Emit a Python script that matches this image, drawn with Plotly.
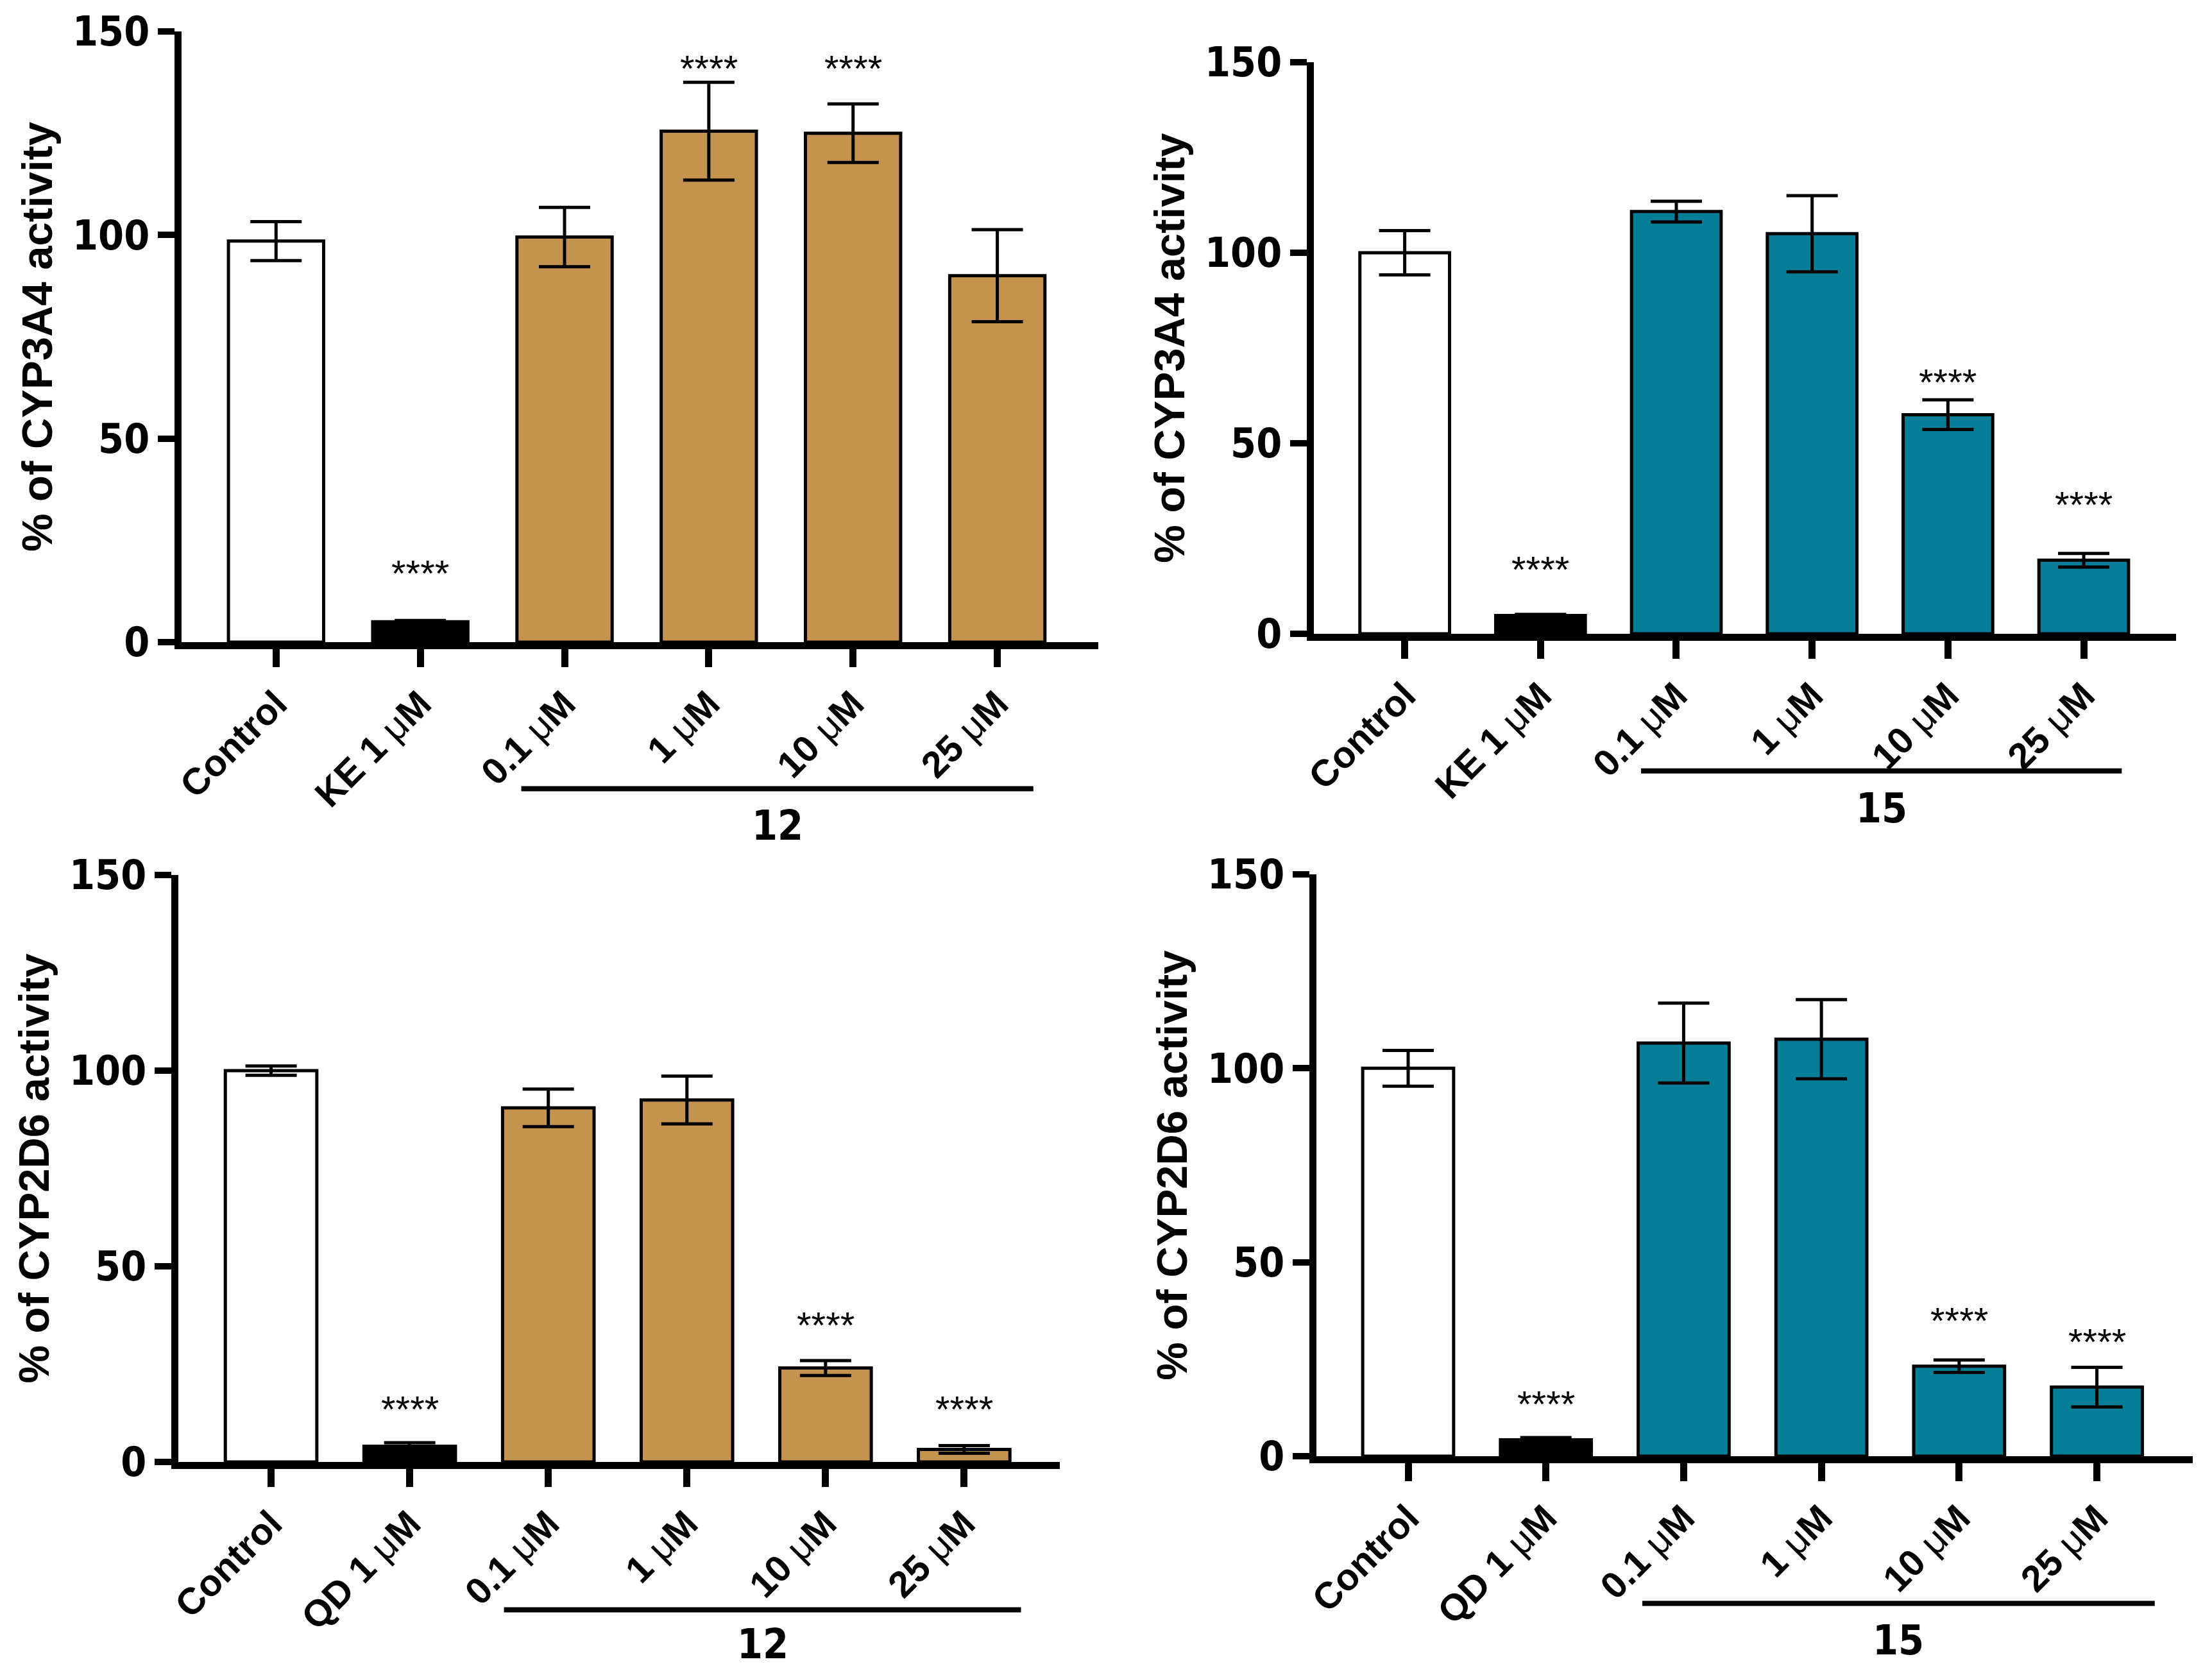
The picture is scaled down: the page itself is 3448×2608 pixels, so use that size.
import plotly.graph_objects as go

# ---- data ----
labels_3a4 = ["Control", "KE 1 μM", "0.1 μM", "1 μM", "10 μM", "25 μM"]
labels_2d6 = ["Control", "QD 1 μM", "0.1 μM", "1 μM", "10 μM", "25 μM"]

cyp3a4_12 = [98.5, 5.0, 99.5, 125.5, 125.0, 90.0]
cyp3a4_12_sd = [4.8, 0.3, 7.3, 12.0, 7.2, 11.3]
cyp3a4_15 = [100.0, 4.8, 110.8, 105.0, 57.5, 19.3]
cyp3a4_15_sd = [5.8, 0.3, 2.7, 10.0, 3.9, 1.8]
cyp2d6_12 = [100.0, 4.0, 90.5, 92.5, 24.0, 3.2]
cyp2d6_12_sd = [1.2, 0.9, 4.8, 6.1, 1.9, 1.0]
cyp2d6_15 = [100.0, 4.2, 106.5, 107.5, 23.2, 17.8]
cyp2d6_15_sd = [4.6, 0.6, 10.3, 10.2, 1.6, 5.1]

# bars marked **** and where the stars sit
stars_3a4_12 = {"KE 1 μM": 17, "1 μM": 141, "10 μM": 141}
stars_3a4_15 = {"KE 1 μM": 17, "10 μM": 66, "25 μM": 34}
stars_2d6_12 = {"QD 1 μM": 13.5, "10 μM": 35, "25 μM": 13.5}
stars_2d6_15 = {"QD 1 μM": 13.5, "10 μM": 35, "25 μM": 29.5}

TAN = "#C4944F"
TEAL = "#077E97"

FONT = "Liberation Sans, Arial, sans-serif"
NARROW = "DejaVu Sans Condensed, Liberation Sans Narrow, Arial Narrow, sans-serif"

W, H = 3448, 2608
PAD = 8  # page body margin in the browser


def px_x(a, b):
    return [(a - PAD) / W, (b - PAD) / W]


def px_y(bottom, top):
    return [(H - bottom + PAD) / H, (H - top + PAD) / H]


def mu(s):
    # the micro sign is set in a lighter weight in the original
    return s.replace("μ", "<span style='font-weight:normal'>μ</span>")


panels = [
    # labels, values, sd, colour, compound, stars, ytitle, xdomain, ydomain, xrange, underline
    (labels_3a4, cyp3a4_12, cyp3a4_12_sd, TAN, "12", stars_3a4_12, "% of CYP3A4 activity",
     px_x(283, 1712), px_y(1001, 49), [-0.655, 5.70], [1.70, 5.25], -0.24, -0.30),
    (labels_3a4, cyp3a4_15, cyp3a4_15_sd, TEAL, "15", stars_3a4_15, "% of CYP3A4 activity",
     px_x(2048, 3392), px_y(988, 97), [-0.669, 5.68], [1.74, 5.28], -0.24, -0.305),
    (labels_2d6, cyp2d6_12, cyp2d6_12_sd, TAN, "12", stars_2d6_12, "% of CYP2D6 activity",
     px_x(278, 1652), px_y(2279, 1364), [-0.669, 5.69], [1.68, 5.41], -0.252, -0.31),
    (labels_2d6, cyp2d6_15, cyp2d6_15_sd, TEAL, "15", stars_2d6_15, "% of CYP2D6 activity",
     px_x(2052, 3418), px_y(2270, 1363), [-0.666, 5.696], [1.70, 5.42], -0.253, -0.316),
]

fig = go.Figure()
layout = dict(
    width=W, height=H,
    margin=dict(l=0, r=0, t=0, b=0),
    paper_bgcolor="white", plot_bgcolor="white",
    showlegend=False,
    bargap=0.34,
    annotations=[], shapes=[],
)

for i, (cats, vals, sd, col, cmpd, stars, ytitle, xdom, ydom, xr, uline, uy, ly) in enumerate(panels):
    n = "" if i == 0 else str(i + 1)
    colors = ["white", "black"] + [col] * (len(cats) - 2)
    fig.add_trace(go.Bar(
        x=cats, y=vals,
        marker=dict(color=colors, line=dict(color="black", width=5)),
        error_y=dict(type="data", array=sd, color="black", thickness=5, width=40),
        xaxis="x" + n, yaxis="y" + n,
    ))
    layout["xaxis" + n] = dict(
        domain=xdom, anchor="y" + n, range=xr, automargin=False,
        showline=True, linecolor="black", linewidth=11,
        ticks="outside", ticklen=28, tickwidth=11, tickcolor="black",
        tickangle=-45, tickvals=cats, ticktext=[mu(c) for c in cats],
        tickfont=dict(family=FONT, size=58, color="black", weight="bold"),
        showgrid=False, zeroline=False,
    )
    layout["yaxis" + n] = dict(
        domain=ydom, anchor="x" + n, range=[0, 150], automargin=False,
        tickvals=[0, 50, 100, 150],
        showline=True, linecolor="black", linewidth=11,
        ticks="outside", ticklen=26, tickwidth=10, tickcolor="black",
        tickfont=dict(family=NARROW, size=64, color="black", weight="bold"),
        title=dict(text=ytitle, standoff=14,
                   font=dict(family=FONT, size=67, color="black", weight="bold")),
        showgrid=False, zeroline=False,
    )
    for cat, y in stars.items():
        layout["annotations"].append(dict(
            x=cat, y=y, xref="x" + n, yref="y" + n, text="****", showarrow=False,
            font=dict(family=FONT, size=58, color="black"), yanchor="middle",
        ))
    # compound bracket under the four concentrations
    layout["shapes"].append(dict(
        type="line", xref="x" + n, yref="y" + n + " domain",
        x0=uline[0], x1=uline[1], y0=uy, y1=uy,
        line=dict(color="black", width=8),
    ))
    layout["annotations"].append(dict(
        x=(uline[0] + uline[1]) / 2, y=ly, xref="x" + n, yref="y" + n + " domain",
        text=cmpd, showarrow=False, yanchor="middle",
        font=dict(family=NARROW, size=64, color="black", weight="bold"),
    ))

fig.update_layout(**layout)
fig.write_html("out.html")
